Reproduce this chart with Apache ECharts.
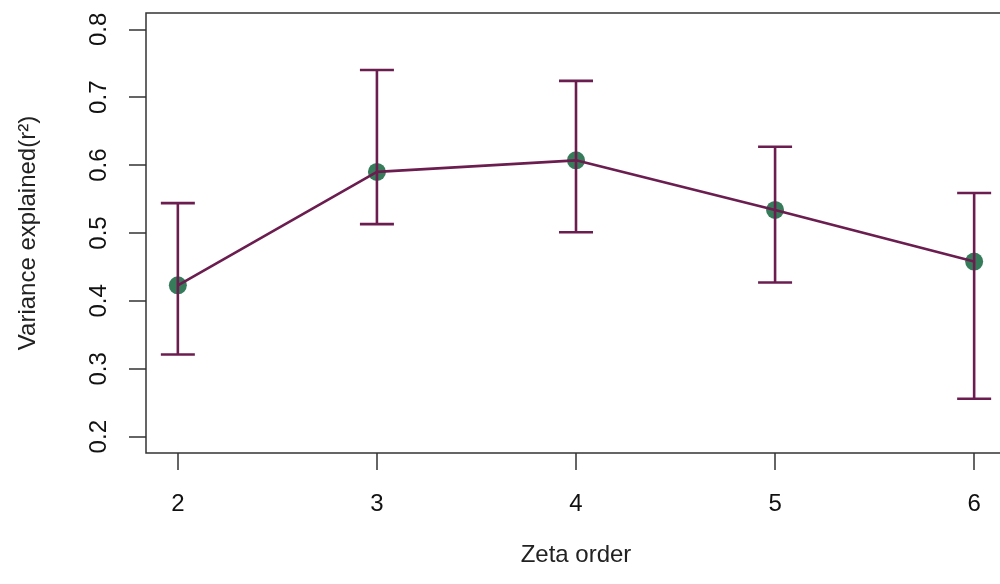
<!DOCTYPE html>
<html>
<head>
<meta charset="utf-8">
<style>
  html, body { margin: 0; padding: 0; background: #ffffff; }
  #chart { width: 1000px; height: 584px; }
</style>
<script src="https://cdn.jsdelivr.net/npm/echarts@6/dist/echarts.min.js"></script>
</head>
<body>
<div id="chart"></div>
<script>
// Zeta order vs. variance explained, with error bars
const zetaOrder = [2, 3, 4, 5, 6];
const meanR2    = [0.423, 0.590, 0.607, 0.534, 0.458];
const lowerR2   = [0.321, 0.513, 0.501, 0.427, 0.256];
const upperR2   = [0.544, 0.740, 0.724, 0.627, 0.559];
const xTicks = [2, 3, 4, 5, 6];
const yTicks = [0.2, 0.3, 0.4, 0.5, 0.6, 0.7, 0.8];

const LINE = '#6b1d4f';
const DOT = '#367c5b';
const AXIS = '#333333';
const FONT = 'Liberation Sans, Arial, sans-serif';

const points = zetaOrder.map((x, i) => [x, meanR2[i]]);
const bars = zetaOrder.map((x, i) => [x, lowerR2[i], upperR2[i]]);

const chart = echarts.init(document.getElementById('chart'), null, { renderer: 'canvas' });

chart.setOption({
  animation: false,
  backgroundColor: '#ffffff',
  grid: {
    left: 146, top: 13, width: 860, height: 440,
    outerBoundsMode: 'none', containLabel: false,
    show: true, borderColor: AXIS, borderWidth: 1.5, backgroundColor: 'transparent'
  },
  xAxis: {
    type: 'value', min: 1.84, max: 6.16,
    name: 'Zeta order', nameLocation: 'middle', nameGap: 90,
    nameTextStyle: { fontFamily: FONT, fontSize: 24, color: '#222' },
    axisLine: { show: false },
    splitLine: { show: false },
    axisTick: { show: true, length: 17, customValues: xTicks, lineStyle: { color: AXIS, width: 1.5 } },
    axisLabel: { customValues: xTicks, margin: 39, fontFamily: FONT, fontSize: 24, color: '#111' }
  },
  yAxis: {
    type: 'value', min: 0.176, max: 0.824,
    name: 'Variance explained(r²)', nameLocation: 'middle', nameGap: 106, nameRotate: 90,
    nameTextStyle: { fontFamily: FONT, fontSize: 24, color: '#222' },
    axisLine: { show: false },
    splitLine: { show: false },
    axisTick: { show: true, length: 17, customValues: yTicks, lineStyle: { color: AXIS, width: 1.5 } },
    axisLabel: {
      customValues: yTicks, rotate: 90, margin: 35, fontFamily: FONT, fontSize: 24, color: '#111',
      formatter: v => v.toFixed(1)
    }
  },
  series: [
    {
      type: 'scatter', data: points, symbol: 'circle', symbolSize: 18,
      itemStyle: { color: DOT, opacity: 1 }, z: 2
    },
    {
      type: 'line', data: points, showSymbol: false, symbol: 'none',
      lineStyle: { color: LINE, width: 2.6 }, z: 3
    },
    {
      type: 'custom', data: bars, z: 4,
      renderItem: function (params, api) {
        const x = api.value(0);
        const lo = api.coord([x, api.value(1)]);
        const hi = api.coord([x, api.value(2)]);
        const half = 17;
        const style = { stroke: LINE, lineWidth: 2.6 };
        return {
          type: 'group',
          children: [
            { type: 'line', shape: { x1: lo[0], y1: lo[1], x2: hi[0], y2: hi[1] }, style },
            { type: 'line', shape: { x1: hi[0] - half, y1: hi[1], x2: hi[0] + half, y2: hi[1] }, style },
            { type: 'line', shape: { x1: lo[0] - half, y1: lo[1], x2: lo[0] + half, y2: lo[1] }, style }
          ]
        };
      }
    }
  ]
});
</script>
</body>
</html>
